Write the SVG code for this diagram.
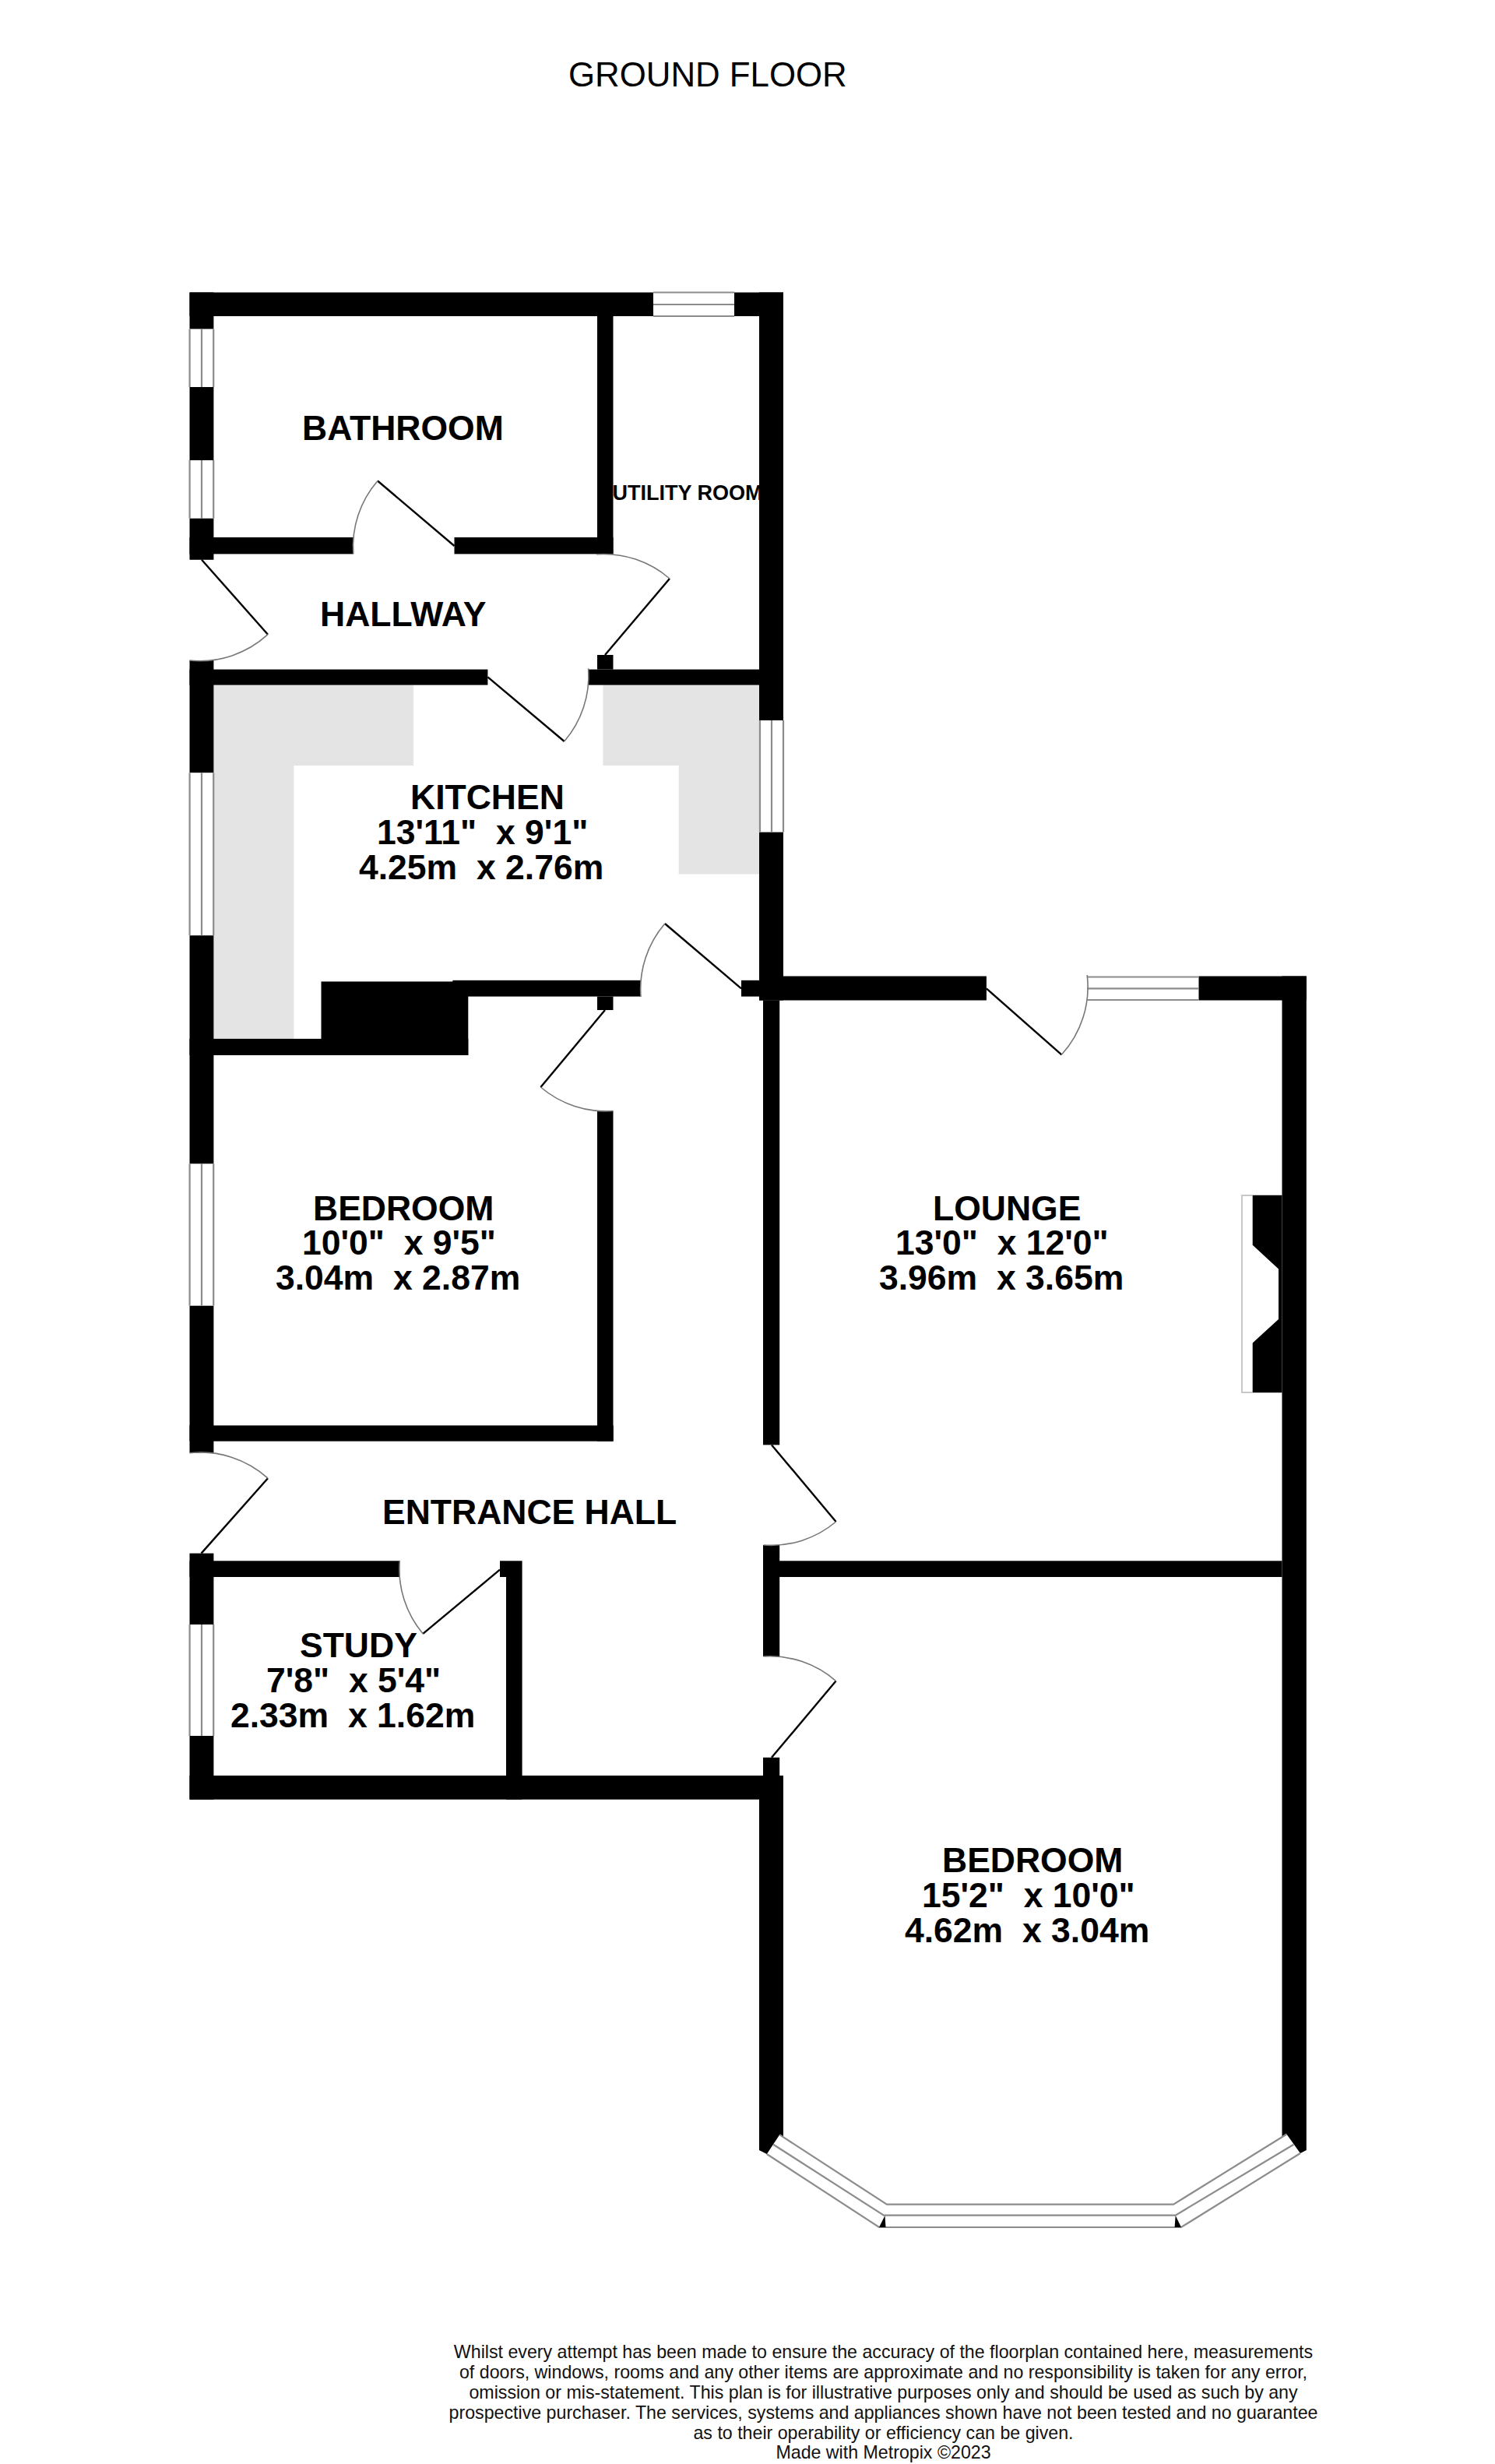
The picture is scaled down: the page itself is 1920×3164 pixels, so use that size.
<svg xmlns="http://www.w3.org/2000/svg" width="1920" height="3164" viewBox="0 0 1920 3164">
<style>
text{font-family:"Liberation Sans",Arial,sans-serif;fill:#000;white-space:pre}
.r{font-size:44.5px;font-weight:700}
.u{font-size:27px;font-weight:700}
.t{font-size:43.8px}
.f{font-size:23.2px;text-anchor:middle;fill:#111}
.w{fill:#000}
.g{fill:#e4e4e4}
.wl{fill:none;stroke:#8c8c8c;stroke-width:2.2}
.leaf{fill:none;stroke:#000;stroke-width:2.4}
.arc{fill:none;stroke:#777;stroke-width:1.6}
</style>
<rect width="1920" height="3164" fill="#fff"/>
<g id="worktops">
<path class="g" d="M274.4 879.6H531V982.9H377.4V1333.9H274.4Z"/>
<path class="g" d="M774.4 879.6H975V1122.4H871.7V982.9H774.4Z"/>
</g>
<g id="walls">
<rect class="w" x="243.5" y="375.5" width="595.5" height="30.5"/>
<rect class="w" x="943" y="375.5" width="63" height="30.5"/>
<rect class="w" x="243.5" y="375.5" width="30.9" height="46.9"/>
<rect class="w" x="243.5" y="497" width="30.9" height="94"/>
<rect class="w" x="243.5" y="665.7" width="30.9" height="53.1"/>
<rect class="w" x="243.5" y="848" width="30.9" height="144.2"/>
<rect class="w" x="243.5" y="1201.2" width="30.9" height="293.1"/>
<rect class="w" x="243.5" y="1676.7" width="30.9" height="189"/>
<rect class="w" x="243.5" y="1994.6" width="30.9" height="91.4"/>
<rect class="w" x="243.5" y="2229" width="30.9" height="81.7"/>
<rect class="w" x="767" y="406" width="20.5" height="305.4"/>
<rect class="w" x="243.5" y="690" width="210.3" height="21.4"/>
<rect class="w" x="583.5" y="690" width="204" height="21.4"/>
<rect class="w" x="243.5" y="859.6" width="382.9" height="20"/>
<rect class="w" x="755.6" y="859.6" width="250.4" height="20"/>
<rect class="w" x="767" y="841" width="20.5" height="18.6"/>
<rect class="w" x="975" y="375.5" width="31" height="549.5"/>
<rect class="w" x="975" y="1068.6" width="31" height="215.9"/>
<rect class="w" x="581.4" y="1258.8" width="241.6" height="20.8"/>
<rect class="w" x="952" y="1258.8" width="23" height="20.8"/>
<rect class="w" x="767" y="1279.6" width="20.5" height="17.4"/>
<rect class="w" x="412.5" y="1260.4" width="188.8" height="94.6"/>
<rect class="w" x="243.5" y="1333.9" width="357.8" height="21.1"/>
<rect class="w" x="767" y="1426.5" width="20.5" height="424.2"/>
<rect class="w" x="243.5" y="1830.4" width="544.2" height="20.3"/>
<rect class="w" x="980" y="1284.5" width="21.2" height="570.9"/>
<rect class="w" x="980" y="1984" width="21.2" height="143"/>
<rect class="w" x="980" y="2256.8" width="21.2" height="23.2"/>
<rect class="w" x="975" y="1253.5" width="291.9" height="31"/>
<rect class="w" x="1539.5" y="1253.5" width="138.3" height="31"/>
<rect class="w" x="1001" y="2004.3" width="645.5" height="20.7"/>
<rect class="w" x="243.5" y="2004.3" width="269.8" height="20.7"/>
<rect class="w" x="642" y="2004.3" width="28.6" height="20.7"/>
<rect class="w" x="650" y="2025" width="20.6" height="285.7"/>
<rect class="w" x="243.5" y="2280" width="762.5" height="30.7"/>
<path class="w" d="M975 2310H1006V2745L1001.2 2741.2 984.8 2766 975 2761Z"/>
<path class="w" d="M1646.5 1253.5H1677.8V2761L1669.9 2765 1652.4 2740.5 1646.5 2745Z"/>
</g>
<g id="windows">
<path class="wl" d="M839 375.5H943M839 391H943M839 406H943"/>
<path class="wl" d="M243.6 422.4V497M259 422.4V497M274.2 422.4V497"/>
<path class="wl" d="M243.6 591V665.7M259 591V665.7M274.2 591V665.7"/>
<path class="wl" d="M243.6 992.2V1201.2M259 992.2V1201.2M274.2 992.2V1201.2"/>
<path class="wl" d="M243.6 1494.3V1676.7M259 1494.3V1676.7M274.2 1494.3V1676.7"/>
<path class="wl" d="M243.6 2086V2229M259 2086V2229M274.2 2086V2229"/>
<path class="wl" d="M976 925V1068.6M991 925V1068.6M1006 925V1068.6"/>
<path class="wl" d="M1396.2 1254.5H1539.5M1396.2 1269.4H1539.5M1396.2 1284H1539.5"/>
<path class="wl" d="M1001.2 2741.2L1139 2830.7H1507L1652.4 2740.5"/>
<path class="wl" d="M993.2 2753.8L1135 2844.6H1509.7L1661.4 2753.8"/>
<path class="wl" d="M984.8 2766L1129 2860H1517L1669.9 2765"/>
<path class="w" d="M1136.5 2845L1129 2860H1137.5Z"/>
<path class="w" d="M1509.7 2845L1508.6 2860H1517Z"/>
</g>
<g id="fireplace">
<path fill="none" stroke="#c8c8c8" stroke-width="2" d="M1608.7 1535H1595V1788H1608.7"/>
<path class="w" d="M1608.7 1534.7H1646.5V1788.2H1608.7V1724.5L1642 1693.9V1629.4L1608.7 1598.8Z"/>
</g>
<g id="doors">
<path class="leaf" d="M259 718.8L344 814.7"/><path class="arc" d="M344 814.7A129 129 0 0 1 243.5 848"/>
<path class="leaf" d="M583.5 701L485 617.5"/><path class="arc" d="M485 617.5A129 129 0 0 0 453.8 711.4"/>
<path class="leaf" d="M626.4 869.4L724.7 952"/><path class="arc" d="M724.7 952A129 129 0 0 0 755.6 858.4"/>
<path class="leaf" d="M777 841L860 743"/><path class="arc" d="M860 743A129 129 0 0 0 766 711.8"/>
<path class="leaf" d="M952 1269.4L853.9 1186"/><path class="arc" d="M853.9 1186A129 129 0 0 0 823 1280"/>
<path class="leaf" d="M777 1297L694.4 1396"/><path class="arc" d="M694.4 1396A129 129 0 0 0 787.5 1426.5"/>
<path class="leaf" d="M1266.9 1269.4L1363.4 1354.3"/><path class="arc" d="M1363.4 1354.3A129 129 0 0 0 1396.2 1252.2"/>
<path class="leaf" d="M258.5 1994.6L344 1898.2"/><path class="arc" d="M344 1898.2A129 129 0 0 0 243.5 1865.7"/>
<path class="leaf" d="M641.9 2015.7L543.2 2097.9"/><path class="arc" d="M543.2 2097.9A129 129 0 0 1 513.3 2004.3"/>
<path class="leaf" d="M991 1855.4L1073.6 1954"/><path class="arc" d="M1073.6 1954A129 129 0 0 1 980.6 1984"/>
<path class="leaf" d="M991 2256.8L1073.6 2158.6"/><path class="arc" d="M1073.6 2158.6A129 129 0 0 0 980.6 2127"/>
</g>
<g id="labels">
<text id="title" class="t" x="730" y="111.3">GROUND FLOOR</text>
<g id="bathroom"><text class="r" x="388" y="564.5">BATHROOM</text></g>
<g id="utility"><text class="u" x="786.5" y="642">UTILITY ROOM</text></g>
<g id="hallway"><text class="r" x="411" y="803.7">HALLWAY</text></g>
<g id="kitchen"><text class="r" x="527" y="1038.8">KITCHEN</text><text class="r" x="484" y="1083.7">13'11"  x 9'1"</text><text class="r" x="461" y="1128.6">4.25m  x 2.76m</text></g>
<g id="bedroom-1"><text class="r" x="402" y="1566.7">BEDROOM</text><text class="r" x="388" y="1611">10'0"  x 9'5"</text><text class="r" x="354" y="1655.7">3.04m  x 2.87m</text></g>
<g id="lounge"><text class="r" x="1198" y="1566.5">LOUNGE</text><text class="r" x="1150" y="1611.4">13'0"  x 12'0"</text><text class="r" x="1129" y="1656">3.96m  x 3.65m</text></g>
<g id="entrance"><text class="r" x="491" y="1956.8">ENTRANCE HALL</text></g>
<g id="study"><text class="r" x="385" y="2128">STUDY</text><text class="r" x="342" y="2172.9">7'8"  x 5'4"</text><text class="r" x="296" y="2217.5">2.33m  x 1.62m</text></g>
<g id="bedroom-2"><text class="r" x="1210" y="2404">BEDROOM</text><text class="r" x="1184" y="2449">15'2"  x 10'0"</text><text class="r" x="1162" y="2494">4.62m  x 3.04m</text></g>
<g id="disclaimer">
<text class="f" x="1134.5" y="3028">Whilst every attempt has been made to ensure the accuracy of the floorplan contained here, measurements</text>
<text class="f" x="1134.5" y="3054">of doors, windows, rooms and any other items are approximate and no responsibility is taken for any error,</text>
<text class="f" x="1134.5" y="3080">omission or mis-statement. This plan is for illustrative purposes only and should be used as such by any</text>
<text class="f" x="1134.5" y="3106">prospective purchaser. The services, systems and appliances shown have not been tested and no guarantee</text>
<text class="f" x="1134.5" y="3131.7">as to their operability or efficiency can be given.</text>
<text class="f" x="1134.5" y="3156.7">Made with Metropix ©2023</text>
</g>
</g>
</svg>
